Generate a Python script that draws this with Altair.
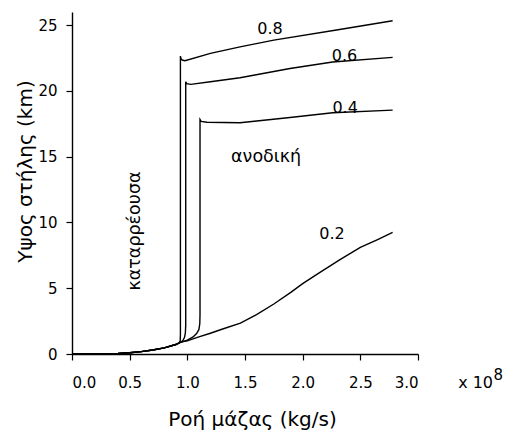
import altair as alt
import pandas as pd

FONT = "DejaVu Sans"

# Mass flux in units of 1e8 kg/s, column height in km.
# Low-flux branch shared by every curve before the collapse/convective split.
base_x = [0.0, 0.2, 0.4, 0.5, 0.6, 0.7, 0.8, 0.9, 0.93]
base_y = [0.0, 0.01, 0.04, 0.1, 0.18, 0.3, 0.47, 0.72, 0.85]

# Curve 0.8
c08_x = [0.938, 0.94, 0.94, 0.945, 0.955, 0.98, 1.2, 1.457, 1.75, 2.32, 2.78]
c08_y = [1.0, 1.5, 22.65, 22.45, 22.35, 22.3, 22.85, 23.35, 23.86, 24.67, 25.33]

# Curve 0.6
c06_x = [0.96, 0.975, 0.983, 0.986, 0.986, 0.995, 1.03, 1.2, 1.457, 1.89, 2.26, 2.78]
c06_y = [1.0, 1.25, 1.6, 2.2, 20.7, 20.55, 20.5, 20.7, 21.0, 21.7, 22.2, 22.55]

# Curve 0.4
c04_x = [1.0, 1.05, 1.08, 1.1, 1.108, 1.11, 1.11, 1.12, 1.17, 1.457, 1.89, 2.26, 2.78]
c04_y = [1.05, 1.3, 1.55, 1.85, 2.3, 3.0, 17.83, 17.68, 17.62, 17.58, 17.98, 18.34, 18.54]

# Curve 0.2
c02_x = [0.94, 1.0, 1.1, 1.2, 1.3, 1.46, 1.6, 1.75, 1.9, 2.0, 2.15, 2.32, 2.5, 2.65, 2.78]
c02_y = [0.9, 1.0, 1.3, 1.58, 1.88, 2.35, 3.0, 3.8, 4.7, 5.35, 6.2, 7.15, 8.1, 8.7, 9.25]

# Curve labels
lab_text = ["0.8", "0.6", "0.4", "0.2"]
lab_x = [1.717, 2.363, 2.368, 2.255]
lab_y = [24.73, 22.64, 18.73, 9.12]

# Regime annotations
reg_text = ["ανοδική", "καταρρέουσα"]
reg_x = [1.683, 0.546]
reg_y = [14.97, 9.35]
reg_angle = [0, 270]

x_ticks = [0.0, 0.5, 1.0, 1.5, 2.0, 2.5, 3.0]
y_ticks = [0, 5, 10, 15, 20, 25]

rows = []
for name, xs, ys in [("0.8", c08_x, c08_y), ("0.6", c06_x, c06_y),
                     ("0.4", c04_x, c04_y), ("0.2", c02_x, c02_y)]:
    allx = base_x + xs
    ally = base_y + ys
    for i, (xv, yv) in enumerate(zip(allx, ally)):
        rows.append({"series": name, "flux": xv, "height": yv, "idx": i})
df = pd.DataFrame(rows)

xscale = alt.Scale(domain=[0, 3], nice=False, zero=False)
yscale = alt.Scale(domain=[0, 26], nice=False, zero=False)

lines = alt.Chart(df).mark_line(color="black", strokeWidth=1.4, clip=False).encode(
    x=alt.X("flux:Q", scale=xscale,
            axis=alt.Axis(values=x_ticks, format=".1f", title="Ροή μάζας (kg/s)",
                          labelPadding=15,
                          titleX=180, titleY=65, titleBaseline="middle")),
    y=alt.Y("height:Q", scale=yscale,
            axis=alt.Axis(values=y_ticks, title="Υψος στήλης (km)", labelPadding=9,
                          titleAngle=270, titleX=-47, titleY=159,
                          titleBaseline="middle", titleAlign="center")),
    detail="series:N",
    order="idx:Q",
)

lab_df = pd.DataFrame({"t": lab_text, "x": lab_x, "y": lab_y})
labels = alt.Chart(lab_df).mark_text(font=FONT, fontSize=16, color="black").encode(
    x=alt.X("x:Q", scale=xscale), y=alt.Y("y:Q", scale=yscale), text="t:N"
)

reg_df = pd.DataFrame({"t": reg_text, "x": reg_x, "y": reg_y, "a": reg_angle})
regimes = alt.Chart(reg_df).mark_text(font=FONT, fontSize=17.5, color="black").encode(
    x=alt.X("x:Q", scale=xscale), y=alt.Y("y:Q", scale=yscale), text="t:N",
    angle=alt.Angle("a:Q", scale=None),
)

# Axis multiplier "x 10^8" to the right of the tick labels
mult_df = pd.DataFrame({"t": ["x 10"], "x": [3.348], "y": [-2.58]})
mult = alt.Chart(mult_df).mark_text(font=FONT, fontSize=16, color="black",
                                    align="left", baseline="alphabetic", clip=False).encode(
    x=alt.X("x:Q", scale=xscale), y=alt.Y("y:Q", scale=yscale), text="t:N"
)
exp_df = pd.DataFrame({"t": ["8"], "x": [3.655], "y": [-2.0]})
expo = alt.Chart(exp_df).mark_text(font=FONT, fontSize=15, color="black",
                                   align="left", baseline="alphabetic", clip=False).encode(
    x=alt.X("x:Q", scale=xscale), y=alt.Y("y:Q", scale=yscale), text="t:N"
)

chart = alt.layer(lines, labels, regimes, mult, expo).properties(
    width=346, height=342,
    autosize=alt.AutoSizeParams(type="none"),
    padding={"left": 72, "top": 12, "right": 92, "bottom": 78},
    background="white",
).configure_view(stroke=None).configure_axis(
    domainColor="black", tickColor="black", labelColor="black", titleColor="black",
    grid=False, labelFont=FONT, titleFont=FONT, labelFontSize=15, titleFontSize=20,
    titleFontWeight="normal", tickSize=6, domainWidth=1.4, tickWidth=1.2,
)

chart.save("out.html", embed_options={"renderer": "svg", "actions": False})
